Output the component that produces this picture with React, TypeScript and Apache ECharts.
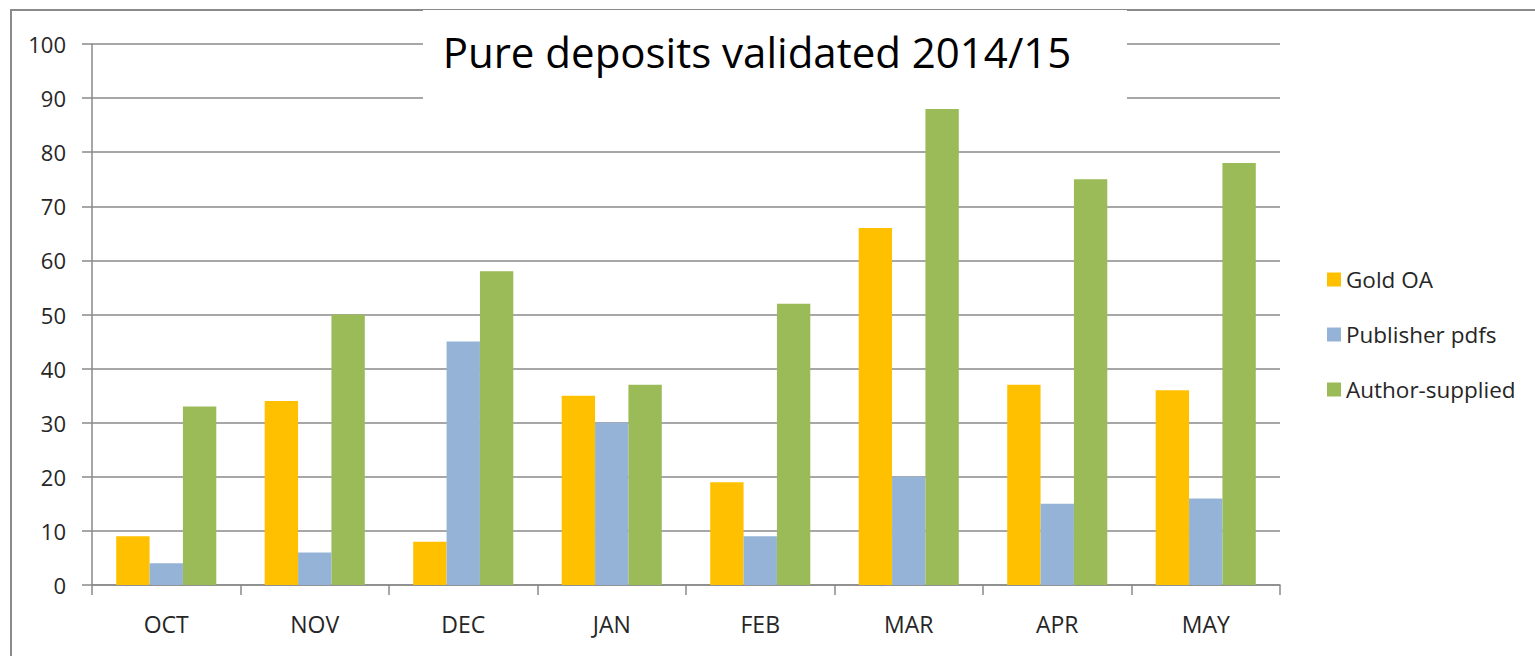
import React, { useEffect, useRef } from "react";
import * as echarts from "echarts";

const categories = ["OCT", "NOV", "DEC", "JAN", "FEB", "MAR", "APR", "MAY"];
const goldOA = [9, 34, 8, 35, 19, 66, 37, 36];
const publisherPdfs = [4, 6, 45, 30, 9, 20, 15, 16];
const authorSupplied = [33, 50, 58, 37, 52, 88, 75, 78];
const seriesNames = ["Gold OA", "Publisher pdfs", "Author-supplied"];
const titleText = "Pure deposits validated 2014/15";

const FONT = "'Open Sans', 'Noto Sans', sans-serif";

export default function App() {
  const ref = useRef<HTMLDivElement>(null);
  useEffect(() => {
    document.body.style.margin = "0";
    const chart = echarts.init(ref.current!, null, { renderer: "svg" });
    const axisColor = "#8a8a8a";
    chart.setOption({
      animation: false,
      backgroundColor: "#ffffff",
      color: ["#FFC000", "#95B3D7", "#9BBB59"],
      grid: { left: 92, right: 255, top: 44, bottom: 71 },
      legend: {
        orient: "vertical",
        left: 1322,
        top: 263,
        itemWidth: 14,
        itemHeight: 14,
        itemGap: 32,
        icon: "rect",
        textStyle: { fontFamily: FONT, fontSize: 22.5, color: "#262626" },
        data: seriesNames,
      },
      xAxis: {
        type: "category",
        data: categories,
        axisLine: { lineStyle: { color: axisColor, width: 1.5 } },
        axisTick: { show: true, length: 10, lineStyle: { color: axisColor, width: 1.5 } },
        axisLabel: { fontFamily: FONT, fontSize: 23, color: "#262626", margin: 27 },
      },
      yAxis: {
        type: "value",
        min: 0,
        max: 100,
        interval: 10,
        axisLine: { show: true, lineStyle: { color: axisColor, width: 1.5 } },
        axisTick: { show: true, length: 10, lineStyle: { color: axisColor, width: 1.5 } },
        splitLine: { lineStyle: { color: axisColor, width: 1.5 } },
        axisLabel: { fontFamily: FONT, fontSize: 22, color: "#262626", margin: 26 },
      },
      series: [
        { name: seriesNames[0], type: "bar", data: goldOA, barGap: "0%", barCategoryGap: "32.6%" },
        { name: seriesNames[1], type: "bar", data: publisherPdfs, barGap: "0%", barCategoryGap: "32.6%" },
        { name: seriesNames[2], type: "bar", data: authorSupplied, barGap: "0%", barCategoryGap: "32.6%" },
      ],
      graphic: [
        {
          type: "rect",
          z: 100,
          silent: true,
          shape: { x: 11, y: 10, width: 1600, height: 700 },
          style: { fill: "none", stroke: "#8a8a8a", lineWidth: 2 },
        },
        {
          type: "rect",
          z: 101,
          silent: true,
          shape: { x: 423, y: 9, width: 704, height: 92 },
          style: { fill: "#ffffff" },
        },
        {
          type: "line",
          z: 102,
          silent: true,
          shape: { x1: 423, y1: 9.5, x2: 1127, y2: 9.5 },
          style: { stroke: "#8a8a8a", lineWidth: 1 },
        },
        {
          type: "text",
          z: 103,
          silent: true,
          x: 757,
          y: 51,
          style: {
            text: titleText,
            fontFamily: FONT,
            fontSize: 42,
            fill: "#000000",
            align: "center",
            verticalAlign: "middle",
          },
        },
      ],
    });
    return () => chart.dispose();
  }, []);
  return <div ref={ref} style={{ width: 1535, height: 656 }} />;
}
